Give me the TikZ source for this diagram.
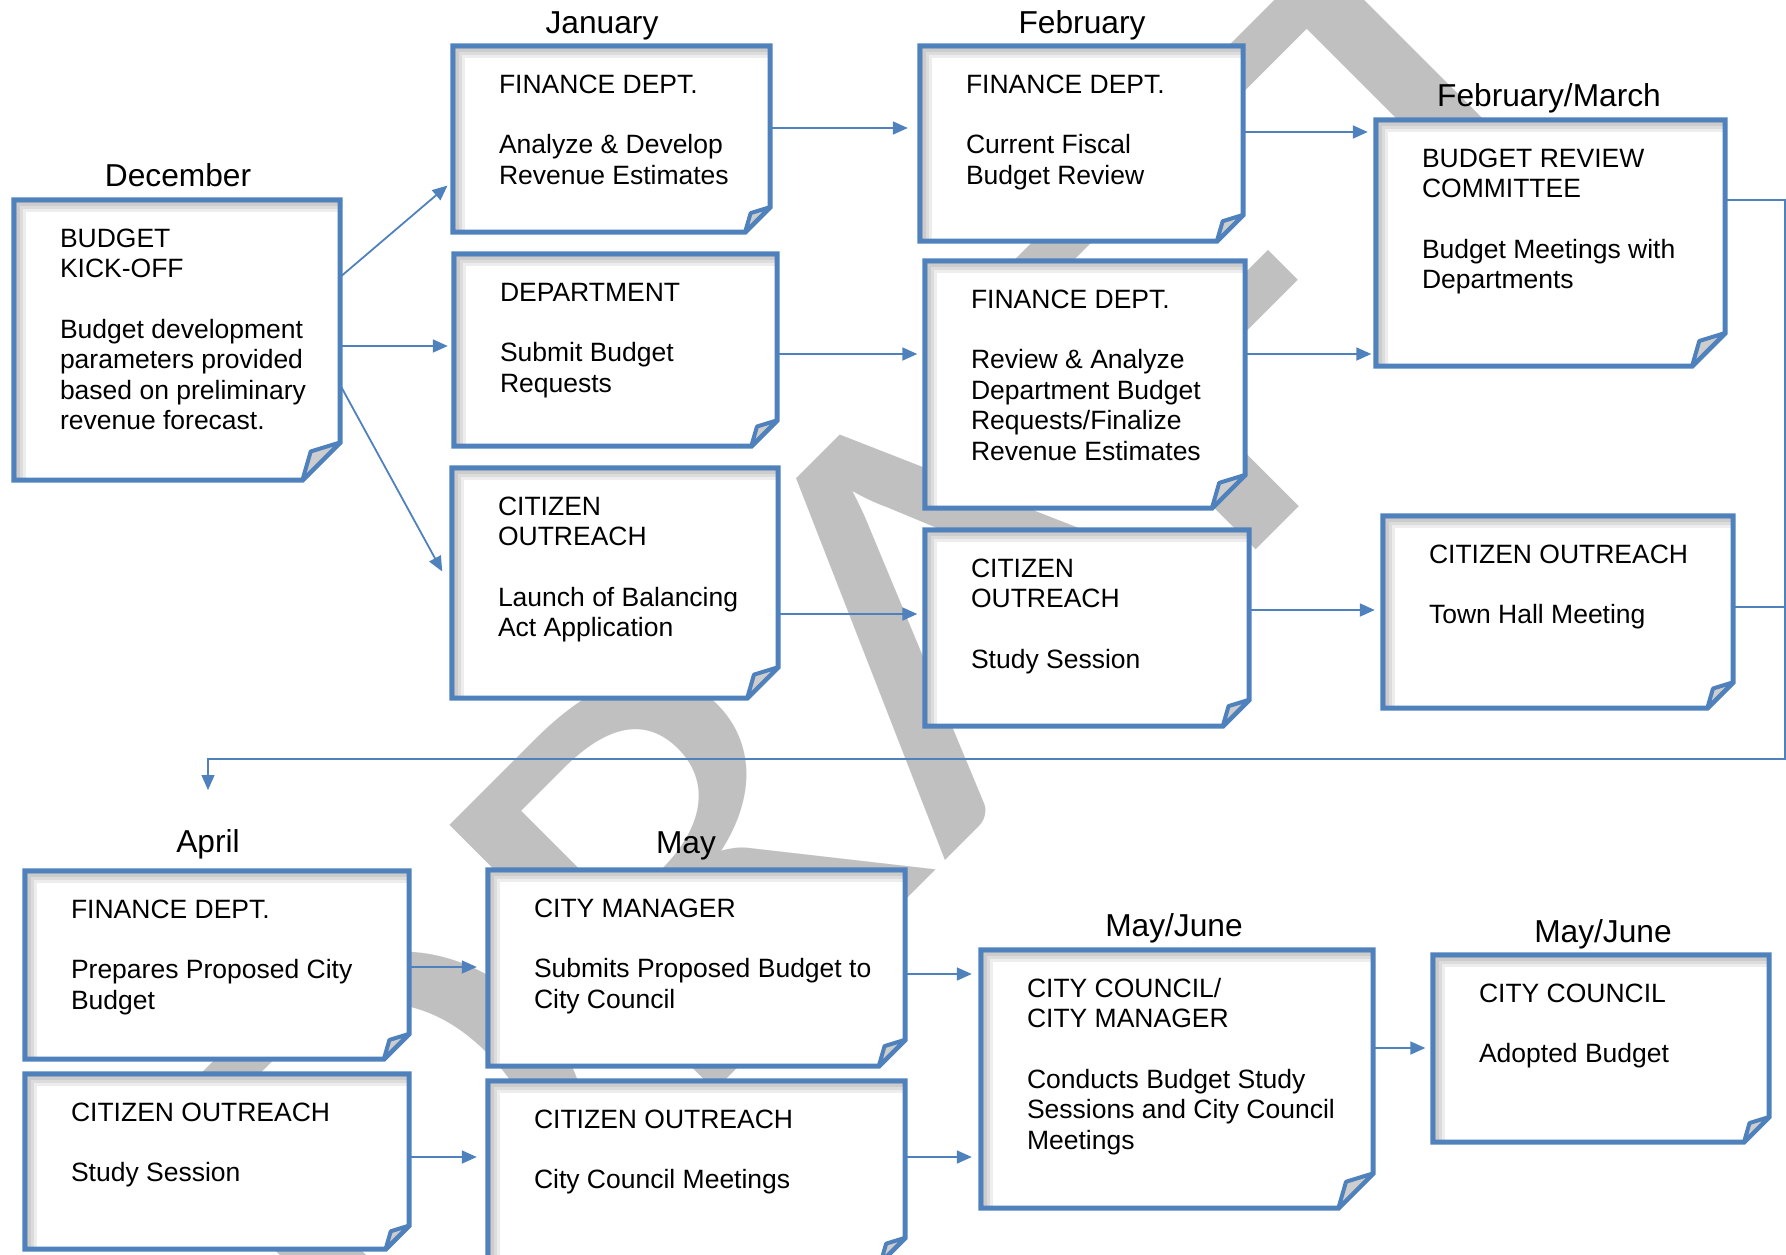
\documentclass[tikz,border=0pt]{standalone}
\usepackage{graphicx}
\usepackage{fontspec}
\setmainfont{Liberation Sans}
\newfontfamily\wmfont{Carlito}
\usetikzlibrary{arrows.meta}
\newcommand\boxfont{\fontsize{26.5}{30.4}\selectfont}
\newcommand\monthfont{\fontsize{31.7}{36}\selectfont}
\pgfdeclarelayer{watermark}
\pgfdeclarelayer{boxes}
\pgfsetlayers{watermark,boxes,main}

% note box: name, left, top, right, bottom, text
\newcommand\notebox[6]{%
  \pgfmathsetmacro\bw{#4-#2}\pgfmathsetmacro\bh{#5-#3}\pgfmathsetmacro\fd{0.135*\bh}%
  \node[notebox,minimum width=\bw pt,minimum height=\bh pt] (#1) at ({(#2+#4)/2},{(#3+#5)/2})
    {\begin{minipage}[c][\bh pt][t]{\bw pt}\raggedright\leftskip=46pt\rule{0pt}{47pt}#6\end{minipage}};
  \coordinate (#1-r) at ([yshift=\fd pt]#1.south east);
  \coordinate (#1-b) at ([xshift=-\fd pt]#1.south east);
  \coordinate (#1-f) at ([xshift=-0.78*\fd pt,yshift=0.76*\fd pt]#1.south east);
  \begin{pgfonlayer}{boxes}
    \fill[white] (#1.north west) -- (#1.north east) -- (#1-r) -- (#1-b) -- (#1.south west) -- cycle;
    \begin{scope}
      \clip (#1.north west) -- (#1.north east) -- (#1-r) -- (#1-b) -- (#1.south west) -- cycle;
      \foreach \s in {1.5,3,4.5,6}
        \draw[black,opacity=.07,line width=2*\s pt] ([shift={(\s,\s)}]#1.north east)
          -- ([shift={(\s,\s)}]#1.north west) -- ([shift={(\s,\s)}]#1.south west);
    \end{scope}
    \draw[boxline] (#1.north west) -- (#1.north east) -- (#1-r) -- (#1-b) -- (#1.south west) -- cycle;
    \filldraw[fold] (#1-b) -- (#1-f) -- (#1-r) -- cycle;
  \end{pgfonlayer}}

\begin{document}
\begin{tikzpicture}[x=1pt,y=-1pt]
\definecolor{boxblue}{RGB}{79,129,189}
\definecolor{wmgray}{RGB}{192,192,192}
\definecolor{foldgray}{RGB}{205,205,205}
\tikzset{
  notebox/.style={rectangle,inner sep=0pt,font=\boxfont},
  boxline/.style={draw=boxblue,line width=5pt},
  fold/.style={fill=foldgray,draw=boxblue,line width=4pt,line join=round},
  flow/.style={draw=boxblue,line width=1.8pt,-{Triangle[length=15pt,width=13pt]}},
  rail/.style={draw=boxblue,line width=1.4pt},
  month/.style={font=\monthfont,inner sep=0pt,anchor=base}}
\useasboundingbox (0,0) rectangle (1786,1254);

\begin{pgfonlayer}{watermark}
\node[rotate=45,anchor=base,inner sep=0pt,text=wmgray,font=\wmfont\fontsize{585}{585}\selectfont]
  (wm) at (1032,774) {\scalebox{1.17}[1]{DRAFT}};
\end{pgfonlayer}

\node[month] (dec-m) at (178,186) {December};
\node[month] (jan-m) at (602,33) {January};
\node[month] (feb-m) at (1082,33) {February};
\node[month] (febmar-m) at (1549,106) {February/March};
\node[month] (apr-m) at (208,852) {April};
\node[month] (may-m) at (686,853) {May};
\node[month] (mayjun-m) at (1174,936) {May/June};
\node[month] (mayjun2-m) at (1603,942) {May/June};

\notebox{dec}{14}{200}{340}{480}{BUDGET\\KICK-OFF\\[\baselineskip]Budget development\\parameters provided\\based on preliminary\\revenue forecast.}
\notebox{janfin}{453}{46}{770}{232}{FINANCE DEPT.\\[\baselineskip]Analyze \& Develop\\Revenue Estimates}
\notebox{jandept}{454}{254}{777}{446}{DEPARTMENT\\[\baselineskip]Submit Budget\\Requests}
\notebox{jancit}{452}{468}{778}{698}{CITIZEN\\OUTREACH\\[\baselineskip]Launch of Balancing\\Act Application}
\notebox{febfin}{920}{46}{1243}{241}{FINANCE DEPT.\\[\baselineskip]Current Fiscal\\Budget Review}
\notebox{febfin2}{925}{261}{1245}{508}{FINANCE DEPT.\\[\baselineskip]Review \& Analyze\\Department Budget\\Requests/Finalize\\Revenue Estimates}
\notebox{febcit}{925}{530}{1249}{726}{CITIZEN\\OUTREACH\\[\baselineskip]Study Session}
\notebox{brc}{1376}{120}{1725}{366}{BUDGET REVIEW\\COMMITTEE\\[\baselineskip]Budget Meetings with\\Departments}
\notebox{townhall}{1383}{516}{1733}{708}{CITIZEN OUTREACH\\[\baselineskip]Town Hall Meeting}
\notebox{aprfin}{25}{871}{409}{1059}{FINANCE DEPT.\\[\baselineskip]Prepares Proposed City\\Budget}
\notebox{aprcit}{25}{1074}{409}{1249}{CITIZEN OUTREACH\\[\baselineskip]Study Session}
\notebox{maycm}{488}{870}{905}{1066}{CITY MANAGER\\[\baselineskip]Submits Proposed Budget to\\City Council}
\notebox{maycit}{488}{1081}{905}{1262}{CITIZEN OUTREACH\\[\baselineskip]City Council Meetings}
\notebox{ccm}{981}{950}{1373}{1208}{CITY COUNCIL/\\CITY MANAGER\\[\baselineskip]Conducts Budget Study\\Sessions and City Council\\Meetings}
\notebox{cc}{1433}{955}{1769}{1142}{CITY COUNCIL\\[\baselineskip]Adopted Budget}

% December fans out
\draw[flow,shorten >=7pt] (dec.east |- 0,277) -- (janfin.west |- 0,181);
\draw[flow,shorten >=6pt] (dec.east |- 0,346) -- (jandept.west |- 0,346);
\draw[flow,shorten >=20pt] (dec.east |- 0,385) -- (jancit.west |- 0,589);
\foreach \a/\b/\y/\s in {janfin/febfin/128/12, jandept/febfin2/354/7.5, jancit/febcit/614/7.5,
    febfin/brc/132/8, febfin2/brc/354/4.5, febcit/townhall/610/8,
    aprfin/maycm/967/11, aprcit/maycit/1157/11, maycm/ccm/974/9, maycit/ccm/1157/9, ccm/cc/1048/7.5}
  \draw[flow,shorten >=\s pt] (\a.east |- 0,\y) -- (\b.west |- 0,\y);

% return to April
\coordinate (loopend) at (apr-m |- 0,790);
\draw[rail,-{Triangle[length=15pt,width=13pt]}] (brc.east |- 0,200) -| (1785,759) -| (loopend);
\draw[rail] (townhall.east |- 0,607) -- (1785,607);
\end{tikzpicture}
\end{document}
